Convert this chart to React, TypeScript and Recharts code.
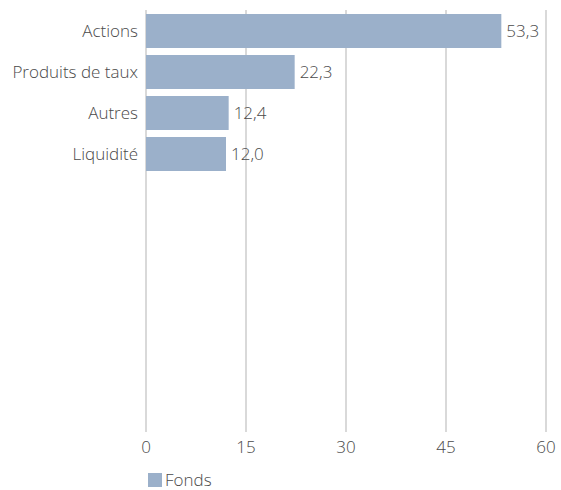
import React from "react";
import {
  Bar,
  BarChart,
  CartesianGrid,
  LabelList,
  Legend,
  XAxis,
  YAxis,
} from "recharts";

// répartition par classe d'actifs (%)
const categories = ["Actions", "Produits de taux", "Autres", "Liquidité"];
const fonds = [53.3, 22.3, 12.4, 12.0];
const xTicks = [0, 15, 30, 45, 60];
// slots vides sous les barres
const emptySlots = 6;

const data = [
  ...categories.map((name, i) => ({ name, fonds: fonds[i] })),
  ...Array.from({ length: emptySlots }, () => ({ name: "", fonds: null })),
];

const FONT = "'Open Sans', Lato, sans-serif";
const TEXT = "#4a4a4a";
const BAR = "#9bb0ca";
const textStyle = { fill: TEXT, fontSize: 17, fontFamily: FONT, fontWeight: 300 };

const formatValue = (v: any) =>
  v == null ? "" : Number(v).toFixed(1).replace(".", ",");

const FondsLegend = () => (
  <div
    style={{
      display: "flex",
      alignItems: "center",
      fontFamily: FONT,
      fontWeight: 300,
      fontSize: 17,
      lineHeight: "20px",
      color: TEXT,
      transform: "translateY(4px)",
    }}
  >
    <span style={{ width: 14, height: 14, background: BAR, marginRight: 3, display: "inline-block" }} />
    <span>Fonds</span>
  </div>
);

const App = () => {
  return (
    <div style={{ position: "absolute", left: 0, top: 0, width: 561, height: 490 }}>
      <BarChart
        width={561}
        height={490}
        data={data}
        layout="vertical"
        margin={{ top: 10, right: 15, left: 0, bottom: 2 }}
      >
        <CartesianGrid horizontal={false} stroke="#b3b3b3" />
        <XAxis
          type="number"
          domain={[0, 60]}
          ticks={xTicks}
          axisLine={false}
          tickLine={false}
          tickSize={0}
          tickMargin={9}
          height={34}
          tick={textStyle}
        />
        <YAxis
          type="category"
          dataKey="name"
          width={146}
          axisLine={false}
          tickLine={false}
          tickSize={0}
          tickMargin={8}
          padding={{ top: 0, bottom: 12 }}
          interval={0}
          tick={textStyle}
        />
        <Legend
          verticalAlign="bottom"
          align="left"
          height={22}
          content={<FondsLegend />}
          wrapperStyle={{ paddingLeft: 148 }}
        />
        <Bar dataKey="fonds" name="Fonds" fill={BAR} barSize={34} isAnimationActive={false}>
          <LabelList
            dataKey="fonds"
            position="right"
            offset={5}
            formatter={formatValue}
            style={textStyle}
          />
        </Bar>
      </BarChart>
    </div>
  );
};

export default App;
